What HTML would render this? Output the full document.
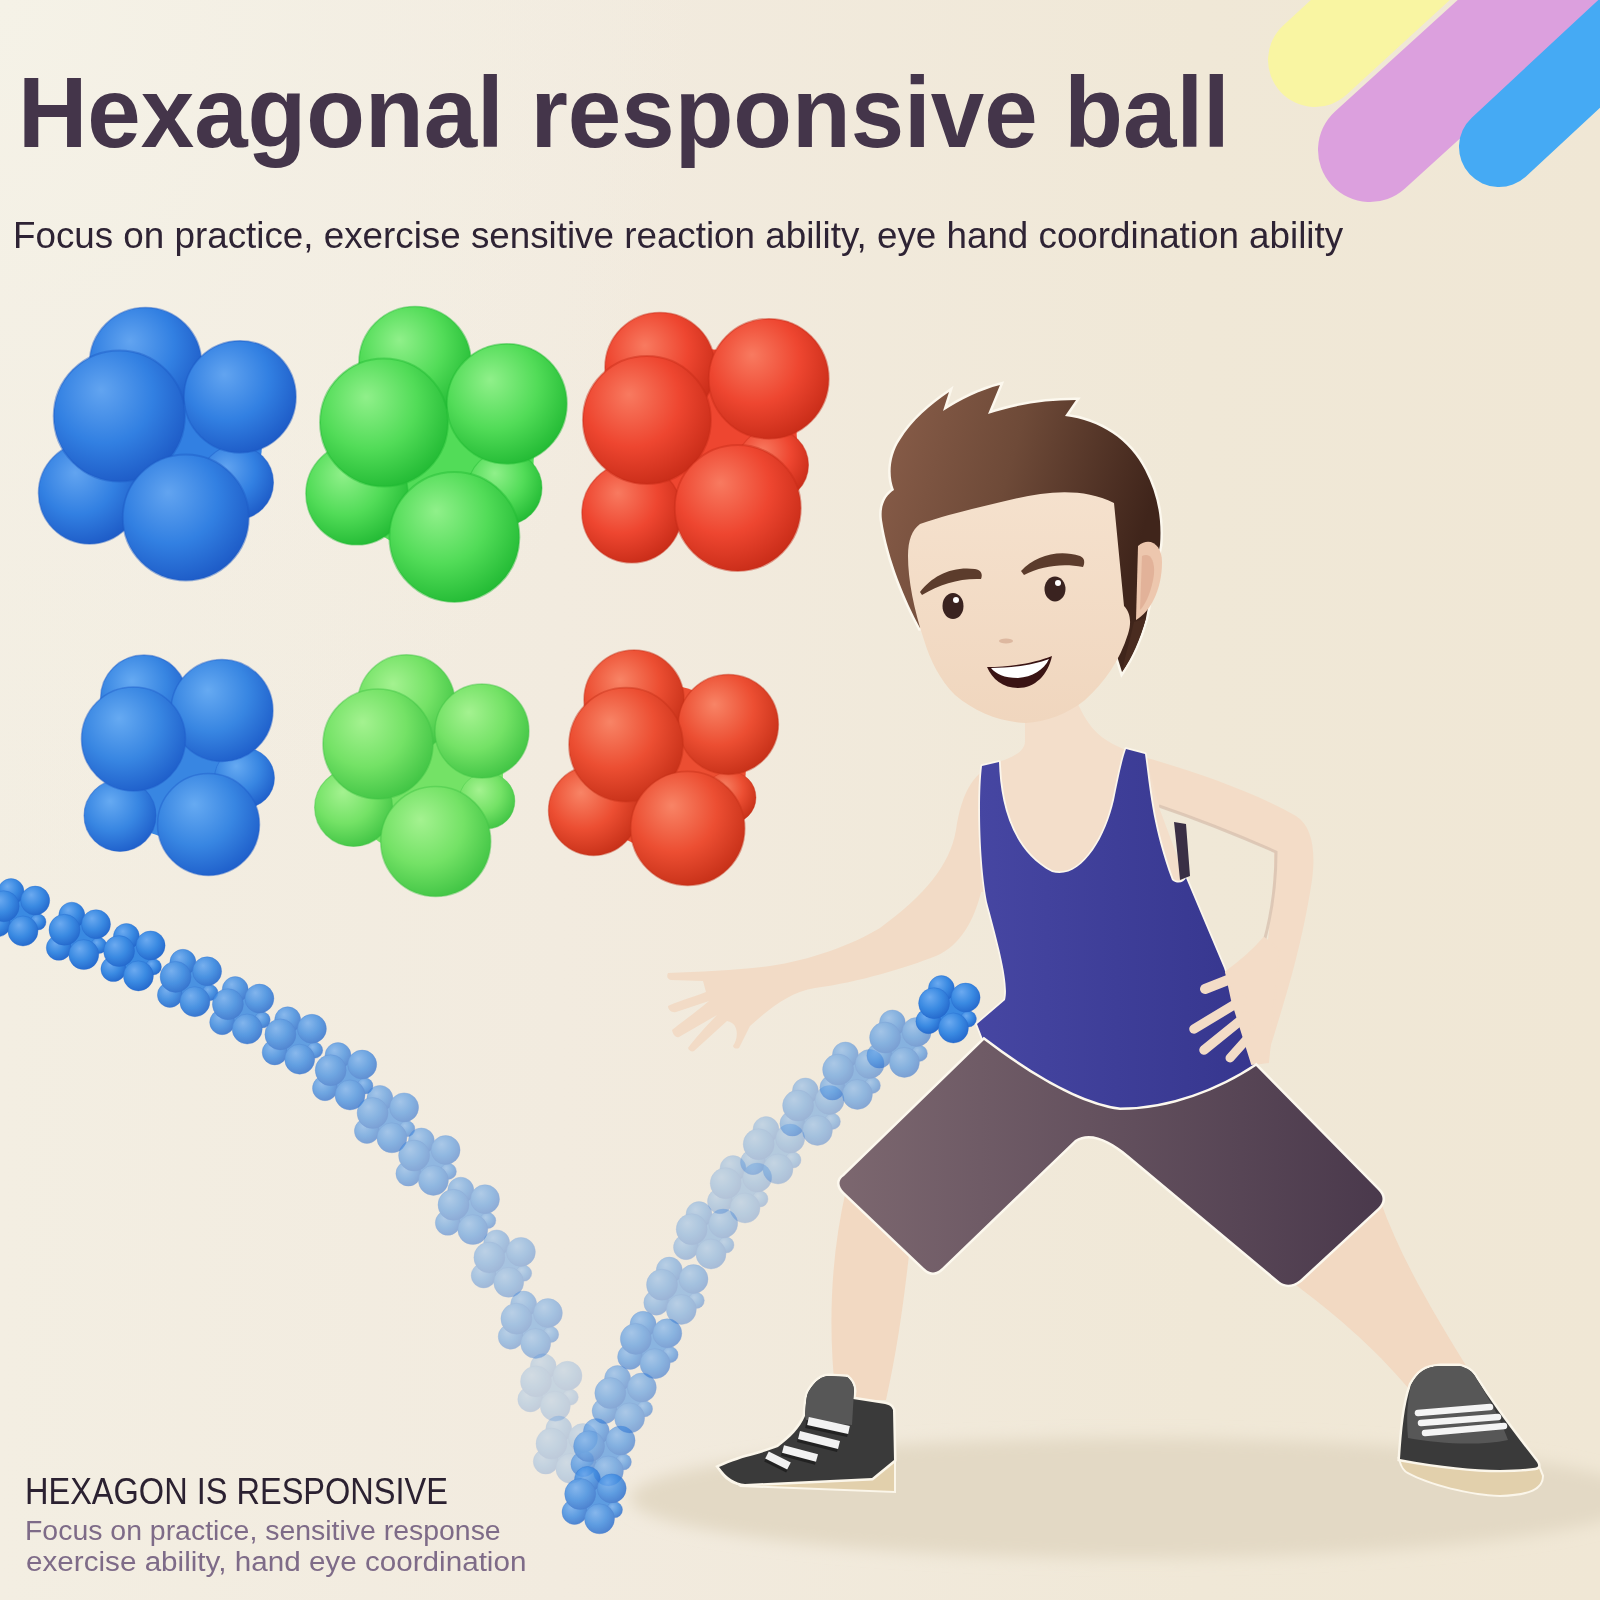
<!DOCTYPE html>
<html><head><meta charset="utf-8">
<style>
html,body{margin:0;padding:0;width:1600px;height:1600px;overflow:hidden}
body{position:relative;background:#F1E9DA;font-family:"Liberation Sans",sans-serif}
#bg{position:absolute;left:0;top:0;width:1600px;height:1600px;
background:radial-gradient(ellipse 700px 900px at 0px 0px,rgba(245,242,231,1) 0%,rgba(244,240,229,0.7) 45%,rgba(242,236,226,0) 100%),linear-gradient(90deg,#F3EEE2 0%,#F2EBDF 35%,#F0E8D7 75%,#F0E7D5 100%)}
svg{position:absolute;left:0;top:0}
.t{position:absolute;white-space:nowrap;line-height:1;transform-origin:0 0}
#t1{left:18px;top:62px;font-size:101px;font-weight:bold;color:#44354A;transform:scaleX(0.951)}
#t2{left:13px;top:217px;font-size:37px;color:#2E2334;transform:scaleX(0.994)}
#t3{left:25px;top:1473px;font-size:37px;color:#2B2131;transform:scaleX(0.879)}
#t4{left:25px;top:1518px;font-size:27px;color:#7E6B88;transform:scaleX(1.053)}
#t5{left:26px;top:1549px;font-size:27px;color:#7E6B88;transform:scaleX(1.098)}
</style></head><body>
<div id="bg"></div>
<svg width="1600" height="1600" viewBox="0 0 1600 1600">
<defs><radialGradient id="sp_b1" cx="0.4" cy="0.36" r="0.68" fx="0.36" fy="0.3"><stop offset="0" stop-color="#62A4F0"/><stop offset="0.55" stop-color="#3280E2"/><stop offset="1" stop-color="#1D5AC6"/></radialGradient><radialGradient id="sp_g1" cx="0.4" cy="0.36" r="0.68" fx="0.36" fy="0.3"><stop offset="0" stop-color="#90F08A"/><stop offset="0.55" stop-color="#52DC58"/><stop offset="1" stop-color="#22BA34"/></radialGradient><radialGradient id="sp_r1" cx="0.4" cy="0.36" r="0.68" fx="0.36" fy="0.3"><stop offset="0" stop-color="#F87A60"/><stop offset="0.55" stop-color="#EE4630"/><stop offset="1" stop-color="#C82C18"/></radialGradient><radialGradient id="sp_b2" cx="0.4" cy="0.36" r="0.68" fx="0.36" fy="0.3"><stop offset="0" stop-color="#66AAF2"/><stop offset="0.55" stop-color="#3886E2"/><stop offset="1" stop-color="#1E5ECA"/></radialGradient><radialGradient id="sp_g2" cx="0.4" cy="0.36" r="0.68" fx="0.36" fy="0.3"><stop offset="0" stop-color="#A4F290"/><stop offset="0.55" stop-color="#74E266"/><stop offset="1" stop-color="#40C444"/></radialGradient><radialGradient id="sp_r2" cx="0.4" cy="0.36" r="0.68" fx="0.36" fy="0.3"><stop offset="0" stop-color="#F88466"/><stop offset="0.55" stop-color="#EC4E32"/><stop offset="1" stop-color="#C63018"/></radialGradient><radialGradient id="sp_tb" cx="0.4" cy="0.36" r="0.68" fx="0.36" fy="0.3"><stop offset="0" stop-color="#6CAAF0"/><stop offset="0.55" stop-color="#3A8AE2"/><stop offset="1" stop-color="#2468CC"/></radialGradient>
<filter id="blur8" x="-20%" y="-50%" width="140%" height="200%"><feGaussianBlur stdDeviation="8"/></filter>
<linearGradient id="hairG" x1="0" y1="0" x2="1" y2="0.3"><stop offset="0" stop-color="#8A5E4A"/><stop offset="0.5" stop-color="#6E4A38"/><stop offset="1" stop-color="#40251B"/></linearGradient>
<linearGradient id="tankG" x1="0" y1="0" x2="1" y2="0"><stop offset="0" stop-color="#4646A2"/><stop offset="1" stop-color="#36368E"/></linearGradient>
<linearGradient id="shortsG" x1="0" y1="0" x2="1" y2="0"><stop offset="0" stop-color="#7C676F"/><stop offset="1" stop-color="#4A394C"/></linearGradient>
<linearGradient id="skinG" x1="0" y1="0" x2="0" y2="1"><stop offset="0" stop-color="#F5E1CD"/><stop offset="1" stop-color="#F0D6BE"/></linearGradient>
</defs>
<g stroke-linecap="round" fill="none">
<line x1="1315" y1="60" x2="1560" y2="-165" stroke="#F9F5A2" stroke-width="94"/>
<line x1="1370" y1="150" x2="1700" y2="-150" stroke="#DCA0DE" stroke-width="104"/>
<line x1="1499" y1="147" x2="1700" y2="-40" stroke="#45AAF4" stroke-width="80"/>
</g>
<ellipse cx="1135" cy="1498" rx="505" ry="60" fill="#E3D9C5" filter="url(#blur8)"/>
<circle cx="170.0" cy="443.0" r="92.0" fill="#3280E2"/><circle cx="236.5" cy="482.5" r="37.0" fill="url(#sp_b1)" stroke="#1D5AC6" stroke-opacity="0.45" stroke-width="1.11"/><circle cx="145.5" cy="363.5" r="56.0" fill="url(#sp_b1)" stroke="#1D5AC6" stroke-opacity="0.45" stroke-width="1.68"/><circle cx="89.5" cy="493.0" r="51.0" fill="url(#sp_b1)" stroke="#1D5AC6" stroke-opacity="0.45" stroke-width="1.53"/><circle cx="240.0" cy="396.8" r="56.0" fill="url(#sp_b1)" stroke="#1D5AC6" stroke-opacity="0.45" stroke-width="1.68"/><circle cx="119.3" cy="416.0" r="65.6" fill="url(#sp_b1)" stroke="#1D5AC6" stroke-opacity="0.45" stroke-width="1.97"/><circle cx="185.8" cy="517.5" r="63.0" fill="url(#sp_b1)" stroke="#1D5AC6" stroke-opacity="0.45" stroke-width="1.89"/><circle cx="436.0" cy="454.0" r="98.0" fill="#52DC58"/><circle cx="505.0" cy="488.0" r="37.0" fill="url(#sp_g1)" stroke="#22BA34" stroke-opacity="0.45" stroke-width="1.11"/><circle cx="415.0" cy="362.5" r="56.0" fill="url(#sp_g1)" stroke="#22BA34" stroke-opacity="0.45" stroke-width="1.68"/><circle cx="356.9" cy="493.8" r="51.0" fill="url(#sp_g1)" stroke="#22BA34" stroke-opacity="0.45" stroke-width="1.53"/><circle cx="506.9" cy="403.8" r="60.0" fill="url(#sp_g1)" stroke="#22BA34" stroke-opacity="0.45" stroke-width="1.80"/><circle cx="384.0" cy="422.5" r="64.0" fill="url(#sp_g1)" stroke="#22BA34" stroke-opacity="0.45" stroke-width="1.92"/><circle cx="454.4" cy="536.9" r="65.0" fill="url(#sp_g1)" stroke="#22BA34" stroke-opacity="0.45" stroke-width="1.95"/><circle cx="705.0" cy="441.0" r="92.0" fill="#EE4630"/><circle cx="772.5" cy="465.0" r="36.0" fill="url(#sp_r1)" stroke="#C82C18" stroke-opacity="0.45" stroke-width="1.08"/><circle cx="660.0" cy="367.5" r="55.0" fill="url(#sp_r1)" stroke="#C82C18" stroke-opacity="0.45" stroke-width="1.65"/><circle cx="631.9" cy="512.8" r="50.0" fill="url(#sp_r1)" stroke="#C82C18" stroke-opacity="0.45" stroke-width="1.50"/><circle cx="768.8" cy="378.8" r="60.0" fill="url(#sp_r1)" stroke="#C82C18" stroke-opacity="0.45" stroke-width="1.80"/><circle cx="646.9" cy="420.0" r="64.0" fill="url(#sp_r1)" stroke="#C82C18" stroke-opacity="0.45" stroke-width="1.92"/><circle cx="737.8" cy="508.0" r="63.0" fill="url(#sp_r1)" stroke="#C82C18" stroke-opacity="0.45" stroke-width="1.89"/><circle cx="180.0" cy="765.0" r="74.0" fill="#3886E2"/><circle cx="244.5" cy="778.0" r="30.0" fill="url(#sp_b2)" stroke="#1E5ECA" stroke-opacity="0.45" stroke-width="0.90"/><circle cx="144.0" cy="698.5" r="43.5" fill="url(#sp_b2)" stroke="#1E5ECA" stroke-opacity="0.45" stroke-width="1.30"/><circle cx="120.0" cy="815.5" r="36.0" fill="url(#sp_b2)" stroke="#1E5ECA" stroke-opacity="0.45" stroke-width="1.08"/><circle cx="222.0" cy="710.5" r="51.0" fill="url(#sp_b2)" stroke="#1E5ECA" stroke-opacity="0.45" stroke-width="1.53"/><circle cx="133.5" cy="739.0" r="52.0" fill="url(#sp_b2)" stroke="#1E5ECA" stroke-opacity="0.45" stroke-width="1.56"/><circle cx="208.5" cy="824.5" r="51.0" fill="url(#sp_b2)" stroke="#1E5ECA" stroke-opacity="0.45" stroke-width="1.53"/><circle cx="423.0" cy="775.0" r="80.0" fill="#74E266"/><circle cx="486.9" cy="801.0" r="28.0" fill="url(#sp_g2)" stroke="#40C444" stroke-opacity="0.45" stroke-width="0.84"/><circle cx="406.4" cy="703.4" r="48.7" fill="url(#sp_g2)" stroke="#40C444" stroke-opacity="0.45" stroke-width="1.46"/><circle cx="353.6" cy="807.4" r="39.0" fill="url(#sp_g2)" stroke="#40C444" stroke-opacity="0.45" stroke-width="1.17"/><circle cx="482.0" cy="731.0" r="47.0" fill="url(#sp_g2)" stroke="#40C444" stroke-opacity="0.45" stroke-width="1.41"/><circle cx="378.0" cy="744.0" r="55.0" fill="url(#sp_g2)" stroke="#40C444" stroke-opacity="0.45" stroke-width="1.65"/><circle cx="435.7" cy="841.5" r="55.0" fill="url(#sp_g2)" stroke="#40C444" stroke-opacity="0.45" stroke-width="1.65"/><circle cx="664.0" cy="767.0" r="82.0" fill="#EC4E32"/><circle cx="730.0" cy="797.5" r="26.0" fill="url(#sp_r2)" stroke="#C63018" stroke-opacity="0.45" stroke-width="0.80"/><circle cx="634.0" cy="700.0" r="50.0" fill="url(#sp_r2)" stroke="#C63018" stroke-opacity="0.45" stroke-width="1.50"/><circle cx="593.5" cy="810.5" r="45.0" fill="url(#sp_r2)" stroke="#C63018" stroke-opacity="0.45" stroke-width="1.35"/><circle cx="728.4" cy="724.4" r="50.0" fill="url(#sp_r2)" stroke="#C63018" stroke-opacity="0.45" stroke-width="1.50"/><circle cx="626.0" cy="744.7" r="57.0" fill="url(#sp_r2)" stroke="#C63018" stroke-opacity="0.45" stroke-width="1.71"/><circle cx="687.7" cy="828.4" r="57.0" fill="url(#sp_r2)" stroke="#C63018" stroke-opacity="0.45" stroke-width="1.71"/>
<g opacity="1.0"><circle cx="19.0" cy="913.0" r="21.0" fill="#3A8AE2"/><circle cx="38.0" cy="922.0" r="8.0" fill="url(#sp_tb)" stroke="#2468CC" stroke-opacity="0.45" stroke-width="0.80"/><circle cx="11.0" cy="891.6" r="13.0" fill="url(#sp_tb)" stroke="#2468CC" stroke-opacity="0.45" stroke-width="0.80"/><circle cx="-2.0" cy="924.2" r="12.5" fill="url(#sp_tb)" stroke="#2468CC" stroke-opacity="0.45" stroke-width="0.80"/><circle cx="35.2" cy="900.6" r="14.5" fill="url(#sp_tb)" stroke="#2468CC" stroke-opacity="0.45" stroke-width="0.80"/><circle cx="3.7" cy="906.2" r="15.5" fill="url(#sp_tb)" stroke="#2468CC" stroke-opacity="0.45" stroke-width="0.80"/><circle cx="23.0" cy="931.0" r="15.0" fill="url(#sp_tb)" stroke="#2468CC" stroke-opacity="0.45" stroke-width="0.80"/></g><g opacity="1.0"><circle cx="79.8" cy="936.6" r="21.0" fill="#3A8AE2"/><circle cx="98.8" cy="945.6" r="8.0" fill="url(#sp_tb)" stroke="#2468CC" stroke-opacity="0.45" stroke-width="0.80"/><circle cx="71.8" cy="915.2" r="13.0" fill="url(#sp_tb)" stroke="#2468CC" stroke-opacity="0.45" stroke-width="0.80"/><circle cx="58.8" cy="947.8" r="12.5" fill="url(#sp_tb)" stroke="#2468CC" stroke-opacity="0.45" stroke-width="0.80"/><circle cx="96.0" cy="924.2" r="14.5" fill="url(#sp_tb)" stroke="#2468CC" stroke-opacity="0.45" stroke-width="0.80"/><circle cx="64.5" cy="929.8" r="15.5" fill="url(#sp_tb)" stroke="#2468CC" stroke-opacity="0.45" stroke-width="0.80"/><circle cx="83.8" cy="954.6" r="15.0" fill="url(#sp_tb)" stroke="#2468CC" stroke-opacity="0.45" stroke-width="0.80"/></g><g opacity="1.0"><circle cx="134.4" cy="957.9" r="21.0" fill="#3A8AE2"/><circle cx="153.4" cy="966.9" r="8.0" fill="url(#sp_tb)" stroke="#2468CC" stroke-opacity="0.45" stroke-width="0.80"/><circle cx="126.4" cy="936.5" r="13.0" fill="url(#sp_tb)" stroke="#2468CC" stroke-opacity="0.45" stroke-width="0.80"/><circle cx="113.4" cy="969.1" r="12.5" fill="url(#sp_tb)" stroke="#2468CC" stroke-opacity="0.45" stroke-width="0.80"/><circle cx="150.6" cy="945.5" r="14.5" fill="url(#sp_tb)" stroke="#2468CC" stroke-opacity="0.45" stroke-width="0.80"/><circle cx="119.1" cy="951.1" r="15.5" fill="url(#sp_tb)" stroke="#2468CC" stroke-opacity="0.45" stroke-width="0.80"/><circle cx="138.4" cy="975.9" r="15.0" fill="url(#sp_tb)" stroke="#2468CC" stroke-opacity="0.45" stroke-width="0.80"/></g><g opacity="0.91"><circle cx="190.9" cy="983.7" r="21.0" fill="#3A8AE2"/><circle cx="209.9" cy="992.7" r="8.0" fill="url(#sp_tb)" stroke="#2468CC" stroke-opacity="0.45" stroke-width="0.80"/><circle cx="182.9" cy="962.3" r="13.0" fill="url(#sp_tb)" stroke="#2468CC" stroke-opacity="0.45" stroke-width="0.80"/><circle cx="169.9" cy="994.9" r="12.5" fill="url(#sp_tb)" stroke="#2468CC" stroke-opacity="0.45" stroke-width="0.80"/><circle cx="207.1" cy="971.3" r="14.5" fill="url(#sp_tb)" stroke="#2468CC" stroke-opacity="0.45" stroke-width="0.80"/><circle cx="175.6" cy="976.9" r="15.5" fill="url(#sp_tb)" stroke="#2468CC" stroke-opacity="0.45" stroke-width="0.80"/><circle cx="194.9" cy="1001.7" r="15.0" fill="url(#sp_tb)" stroke="#2468CC" stroke-opacity="0.45" stroke-width="0.80"/></g><g opacity="0.83"><circle cx="243.2" cy="1011.0" r="21.0" fill="#3A8AE2"/><circle cx="262.2" cy="1020.0" r="8.0" fill="url(#sp_tb)" stroke="#2468CC" stroke-opacity="0.45" stroke-width="0.80"/><circle cx="235.2" cy="989.6" r="13.0" fill="url(#sp_tb)" stroke="#2468CC" stroke-opacity="0.45" stroke-width="0.80"/><circle cx="222.2" cy="1022.2" r="12.5" fill="url(#sp_tb)" stroke="#2468CC" stroke-opacity="0.45" stroke-width="0.80"/><circle cx="259.4" cy="998.6" r="14.5" fill="url(#sp_tb)" stroke="#2468CC" stroke-opacity="0.45" stroke-width="0.80"/><circle cx="227.9" cy="1004.2" r="15.5" fill="url(#sp_tb)" stroke="#2468CC" stroke-opacity="0.45" stroke-width="0.80"/><circle cx="247.2" cy="1029.0" r="15.0" fill="url(#sp_tb)" stroke="#2468CC" stroke-opacity="0.45" stroke-width="0.80"/></g><g opacity="0.78"><circle cx="295.7" cy="1041.2" r="21.0" fill="#3A8AE2"/><circle cx="314.7" cy="1050.2" r="8.0" fill="url(#sp_tb)" stroke="#2468CC" stroke-opacity="0.45" stroke-width="0.80"/><circle cx="287.7" cy="1019.8" r="13.0" fill="url(#sp_tb)" stroke="#2468CC" stroke-opacity="0.45" stroke-width="0.80"/><circle cx="274.7" cy="1052.4" r="12.5" fill="url(#sp_tb)" stroke="#2468CC" stroke-opacity="0.45" stroke-width="0.80"/><circle cx="311.9" cy="1028.8" r="14.5" fill="url(#sp_tb)" stroke="#2468CC" stroke-opacity="0.45" stroke-width="0.80"/><circle cx="280.4" cy="1034.4" r="15.5" fill="url(#sp_tb)" stroke="#2468CC" stroke-opacity="0.45" stroke-width="0.80"/><circle cx="299.7" cy="1059.2" r="15.0" fill="url(#sp_tb)" stroke="#2468CC" stroke-opacity="0.45" stroke-width="0.80"/></g><g opacity="0.71"><circle cx="346.0" cy="1077.0" r="21.0" fill="#3A8AE2"/><circle cx="365.0" cy="1086.0" r="8.0" fill="url(#sp_tb)" stroke="#2468CC" stroke-opacity="0.45" stroke-width="0.80"/><circle cx="338.0" cy="1055.6" r="13.0" fill="url(#sp_tb)" stroke="#2468CC" stroke-opacity="0.45" stroke-width="0.80"/><circle cx="325.0" cy="1088.2" r="12.5" fill="url(#sp_tb)" stroke="#2468CC" stroke-opacity="0.45" stroke-width="0.80"/><circle cx="362.2" cy="1064.6" r="14.5" fill="url(#sp_tb)" stroke="#2468CC" stroke-opacity="0.45" stroke-width="0.80"/><circle cx="330.7" cy="1070.2" r="15.5" fill="url(#sp_tb)" stroke="#2468CC" stroke-opacity="0.45" stroke-width="0.80"/><circle cx="350.0" cy="1095.0" r="15.0" fill="url(#sp_tb)" stroke="#2468CC" stroke-opacity="0.45" stroke-width="0.80"/></g><g opacity="0.58"><circle cx="387.9" cy="1119.8" r="21.0" fill="#3A8AE2"/><circle cx="406.9" cy="1128.8" r="8.0" fill="url(#sp_tb)" stroke="#2468CC" stroke-opacity="0.45" stroke-width="0.80"/><circle cx="379.9" cy="1098.4" r="13.0" fill="url(#sp_tb)" stroke="#2468CC" stroke-opacity="0.45" stroke-width="0.80"/><circle cx="366.9" cy="1131.0" r="12.5" fill="url(#sp_tb)" stroke="#2468CC" stroke-opacity="0.45" stroke-width="0.80"/><circle cx="404.1" cy="1107.4" r="14.5" fill="url(#sp_tb)" stroke="#2468CC" stroke-opacity="0.45" stroke-width="0.80"/><circle cx="372.6" cy="1113.0" r="15.5" fill="url(#sp_tb)" stroke="#2468CC" stroke-opacity="0.45" stroke-width="0.80"/><circle cx="391.9" cy="1137.8" r="15.0" fill="url(#sp_tb)" stroke="#2468CC" stroke-opacity="0.45" stroke-width="0.80"/></g><g opacity="0.53"><circle cx="429.4" cy="1162.4" r="21.0" fill="#3A8AE2"/><circle cx="448.4" cy="1171.4" r="8.0" fill="url(#sp_tb)" stroke="#2468CC" stroke-opacity="0.45" stroke-width="0.80"/><circle cx="421.4" cy="1141.0" r="13.0" fill="url(#sp_tb)" stroke="#2468CC" stroke-opacity="0.45" stroke-width="0.80"/><circle cx="408.4" cy="1173.6" r="12.5" fill="url(#sp_tb)" stroke="#2468CC" stroke-opacity="0.45" stroke-width="0.80"/><circle cx="445.6" cy="1150.0" r="14.5" fill="url(#sp_tb)" stroke="#2468CC" stroke-opacity="0.45" stroke-width="0.80"/><circle cx="414.1" cy="1155.6" r="15.5" fill="url(#sp_tb)" stroke="#2468CC" stroke-opacity="0.45" stroke-width="0.80"/><circle cx="433.4" cy="1180.4" r="15.0" fill="url(#sp_tb)" stroke="#2468CC" stroke-opacity="0.45" stroke-width="0.80"/></g><g opacity="0.49"><circle cx="468.8" cy="1211.6" r="21.0" fill="#3A8AE2"/><circle cx="487.8" cy="1220.6" r="8.0" fill="url(#sp_tb)" stroke="#2468CC" stroke-opacity="0.45" stroke-width="0.80"/><circle cx="460.8" cy="1190.2" r="13.0" fill="url(#sp_tb)" stroke="#2468CC" stroke-opacity="0.45" stroke-width="0.80"/><circle cx="447.8" cy="1222.8" r="12.5" fill="url(#sp_tb)" stroke="#2468CC" stroke-opacity="0.45" stroke-width="0.80"/><circle cx="485.0" cy="1199.2" r="14.5" fill="url(#sp_tb)" stroke="#2468CC" stroke-opacity="0.45" stroke-width="0.80"/><circle cx="453.5" cy="1204.8" r="15.5" fill="url(#sp_tb)" stroke="#2468CC" stroke-opacity="0.45" stroke-width="0.80"/><circle cx="472.8" cy="1229.6" r="15.0" fill="url(#sp_tb)" stroke="#2468CC" stroke-opacity="0.45" stroke-width="0.80"/></g><g opacity="0.4"><circle cx="504.7" cy="1264.3" r="21.0" fill="#3A8AE2"/><circle cx="523.7" cy="1273.3" r="8.0" fill="url(#sp_tb)" stroke="#2468CC" stroke-opacity="0.45" stroke-width="0.80"/><circle cx="496.7" cy="1242.9" r="13.0" fill="url(#sp_tb)" stroke="#2468CC" stroke-opacity="0.45" stroke-width="0.80"/><circle cx="483.7" cy="1275.5" r="12.5" fill="url(#sp_tb)" stroke="#2468CC" stroke-opacity="0.45" stroke-width="0.80"/><circle cx="520.9" cy="1251.9" r="14.5" fill="url(#sp_tb)" stroke="#2468CC" stroke-opacity="0.45" stroke-width="0.80"/><circle cx="489.4" cy="1257.5" r="15.5" fill="url(#sp_tb)" stroke="#2468CC" stroke-opacity="0.45" stroke-width="0.80"/><circle cx="508.7" cy="1282.3" r="15.0" fill="url(#sp_tb)" stroke="#2468CC" stroke-opacity="0.45" stroke-width="0.80"/></g><g opacity="0.42"><circle cx="531.7" cy="1325.5" r="21.0" fill="#3A8AE2"/><circle cx="550.7" cy="1334.5" r="8.0" fill="url(#sp_tb)" stroke="#2468CC" stroke-opacity="0.45" stroke-width="0.80"/><circle cx="523.7" cy="1304.1" r="13.0" fill="url(#sp_tb)" stroke="#2468CC" stroke-opacity="0.45" stroke-width="0.80"/><circle cx="510.7" cy="1336.7" r="12.5" fill="url(#sp_tb)" stroke="#2468CC" stroke-opacity="0.45" stroke-width="0.80"/><circle cx="547.9" cy="1313.1" r="14.5" fill="url(#sp_tb)" stroke="#2468CC" stroke-opacity="0.45" stroke-width="0.80"/><circle cx="516.4" cy="1318.7" r="15.5" fill="url(#sp_tb)" stroke="#2468CC" stroke-opacity="0.45" stroke-width="0.80"/><circle cx="535.7" cy="1343.5" r="15.0" fill="url(#sp_tb)" stroke="#2468CC" stroke-opacity="0.45" stroke-width="0.80"/></g><g opacity="0.23"><circle cx="551.3" cy="1388.2" r="21.0" fill="#3A8AE2"/><circle cx="570.3" cy="1397.2" r="8.0" fill="url(#sp_tb)" stroke="#2468CC" stroke-opacity="0.45" stroke-width="0.80"/><circle cx="543.3" cy="1366.8" r="13.0" fill="url(#sp_tb)" stroke="#2468CC" stroke-opacity="0.45" stroke-width="0.80"/><circle cx="530.3" cy="1399.4" r="12.5" fill="url(#sp_tb)" stroke="#2468CC" stroke-opacity="0.45" stroke-width="0.80"/><circle cx="567.5" cy="1375.8" r="14.5" fill="url(#sp_tb)" stroke="#2468CC" stroke-opacity="0.45" stroke-width="0.80"/><circle cx="536.0" cy="1381.4" r="15.5" fill="url(#sp_tb)" stroke="#2468CC" stroke-opacity="0.45" stroke-width="0.80"/><circle cx="555.3" cy="1406.2" r="15.0" fill="url(#sp_tb)" stroke="#2468CC" stroke-opacity="0.45" stroke-width="0.80"/></g><g opacity="0.25"><circle cx="566.8" cy="1450.4" r="21.0" fill="#3A8AE2"/><circle cx="585.8" cy="1459.4" r="8.0" fill="url(#sp_tb)" stroke="#2468CC" stroke-opacity="0.45" stroke-width="0.80"/><circle cx="558.8" cy="1429.0" r="13.0" fill="url(#sp_tb)" stroke="#2468CC" stroke-opacity="0.45" stroke-width="0.80"/><circle cx="545.8" cy="1461.6" r="12.5" fill="url(#sp_tb)" stroke="#2468CC" stroke-opacity="0.45" stroke-width="0.80"/><circle cx="583.0" cy="1438.0" r="14.5" fill="url(#sp_tb)" stroke="#2468CC" stroke-opacity="0.45" stroke-width="0.80"/><circle cx="551.5" cy="1443.6" r="15.5" fill="url(#sp_tb)" stroke="#2468CC" stroke-opacity="0.45" stroke-width="0.80"/><circle cx="570.8" cy="1468.4" r="15.0" fill="url(#sp_tb)" stroke="#2468CC" stroke-opacity="0.45" stroke-width="0.80"/></g><g opacity="0.6"><circle cx="604.4" cy="1453.0" r="21.0" fill="#3A8AE2"/><circle cx="623.4" cy="1462.0" r="8.0" fill="url(#sp_tb)" stroke="#2468CC" stroke-opacity="0.45" stroke-width="0.80"/><circle cx="596.4" cy="1431.6" r="13.0" fill="url(#sp_tb)" stroke="#2468CC" stroke-opacity="0.45" stroke-width="0.80"/><circle cx="583.4" cy="1464.2" r="12.5" fill="url(#sp_tb)" stroke="#2468CC" stroke-opacity="0.45" stroke-width="0.80"/><circle cx="620.6" cy="1440.6" r="14.5" fill="url(#sp_tb)" stroke="#2468CC" stroke-opacity="0.45" stroke-width="0.80"/><circle cx="589.1" cy="1446.2" r="15.5" fill="url(#sp_tb)" stroke="#2468CC" stroke-opacity="0.45" stroke-width="0.80"/><circle cx="608.4" cy="1471.0" r="15.0" fill="url(#sp_tb)" stroke="#2468CC" stroke-opacity="0.45" stroke-width="0.80"/></g><g opacity="0.52"><circle cx="625.6" cy="1399.9" r="21.0" fill="#3A8AE2"/><circle cx="644.6" cy="1408.9" r="8.0" fill="url(#sp_tb)" stroke="#2468CC" stroke-opacity="0.45" stroke-width="0.80"/><circle cx="617.6" cy="1378.5" r="13.0" fill="url(#sp_tb)" stroke="#2468CC" stroke-opacity="0.45" stroke-width="0.80"/><circle cx="604.6" cy="1411.1" r="12.5" fill="url(#sp_tb)" stroke="#2468CC" stroke-opacity="0.45" stroke-width="0.80"/><circle cx="641.8" cy="1387.5" r="14.5" fill="url(#sp_tb)" stroke="#2468CC" stroke-opacity="0.45" stroke-width="0.80"/><circle cx="610.3" cy="1393.1" r="15.5" fill="url(#sp_tb)" stroke="#2468CC" stroke-opacity="0.45" stroke-width="0.80"/><circle cx="629.6" cy="1417.9" r="15.0" fill="url(#sp_tb)" stroke="#2468CC" stroke-opacity="0.45" stroke-width="0.80"/></g><g opacity="0.56"><circle cx="651.1" cy="1345.7" r="21.0" fill="#3A8AE2"/><circle cx="670.1" cy="1354.7" r="8.0" fill="url(#sp_tb)" stroke="#2468CC" stroke-opacity="0.45" stroke-width="0.80"/><circle cx="643.1" cy="1324.3" r="13.0" fill="url(#sp_tb)" stroke="#2468CC" stroke-opacity="0.45" stroke-width="0.80"/><circle cx="630.1" cy="1356.9" r="12.5" fill="url(#sp_tb)" stroke="#2468CC" stroke-opacity="0.45" stroke-width="0.80"/><circle cx="667.3" cy="1333.3" r="14.5" fill="url(#sp_tb)" stroke="#2468CC" stroke-opacity="0.45" stroke-width="0.80"/><circle cx="635.8" cy="1338.9" r="15.5" fill="url(#sp_tb)" stroke="#2468CC" stroke-opacity="0.45" stroke-width="0.80"/><circle cx="655.1" cy="1363.7" r="15.0" fill="url(#sp_tb)" stroke="#2468CC" stroke-opacity="0.45" stroke-width="0.80"/></g><g opacity="0.42"><circle cx="677.3" cy="1291.5" r="21.0" fill="#3A8AE2"/><circle cx="696.3" cy="1300.5" r="8.0" fill="url(#sp_tb)" stroke="#2468CC" stroke-opacity="0.45" stroke-width="0.80"/><circle cx="669.3" cy="1270.1" r="13.0" fill="url(#sp_tb)" stroke="#2468CC" stroke-opacity="0.45" stroke-width="0.80"/><circle cx="656.3" cy="1302.7" r="12.5" fill="url(#sp_tb)" stroke="#2468CC" stroke-opacity="0.45" stroke-width="0.80"/><circle cx="693.5" cy="1279.1" r="14.5" fill="url(#sp_tb)" stroke="#2468CC" stroke-opacity="0.45" stroke-width="0.80"/><circle cx="662.0" cy="1284.7" r="15.5" fill="url(#sp_tb)" stroke="#2468CC" stroke-opacity="0.45" stroke-width="0.80"/><circle cx="681.3" cy="1309.5" r="15.0" fill="url(#sp_tb)" stroke="#2468CC" stroke-opacity="0.45" stroke-width="0.80"/></g><g opacity="0.36"><circle cx="707.0" cy="1236.0" r="21.0" fill="#3A8AE2"/><circle cx="726.0" cy="1245.0" r="8.0" fill="url(#sp_tb)" stroke="#2468CC" stroke-opacity="0.45" stroke-width="0.80"/><circle cx="699.0" cy="1214.6" r="13.0" fill="url(#sp_tb)" stroke="#2468CC" stroke-opacity="0.45" stroke-width="0.80"/><circle cx="686.0" cy="1247.2" r="12.5" fill="url(#sp_tb)" stroke="#2468CC" stroke-opacity="0.45" stroke-width="0.80"/><circle cx="723.2" cy="1223.6" r="14.5" fill="url(#sp_tb)" stroke="#2468CC" stroke-opacity="0.45" stroke-width="0.80"/><circle cx="691.7" cy="1229.2" r="15.5" fill="url(#sp_tb)" stroke="#2468CC" stroke-opacity="0.45" stroke-width="0.80"/><circle cx="711.0" cy="1254.0" r="15.0" fill="url(#sp_tb)" stroke="#2468CC" stroke-opacity="0.45" stroke-width="0.80"/></g><g opacity="0.3"><circle cx="741.0" cy="1190.0" r="21.0" fill="#3A8AE2"/><circle cx="760.0" cy="1199.0" r="8.0" fill="url(#sp_tb)" stroke="#2468CC" stroke-opacity="0.45" stroke-width="0.80"/><circle cx="733.0" cy="1168.6" r="13.0" fill="url(#sp_tb)" stroke="#2468CC" stroke-opacity="0.45" stroke-width="0.80"/><circle cx="720.0" cy="1201.2" r="12.5" fill="url(#sp_tb)" stroke="#2468CC" stroke-opacity="0.45" stroke-width="0.80"/><circle cx="757.2" cy="1177.6" r="14.5" fill="url(#sp_tb)" stroke="#2468CC" stroke-opacity="0.45" stroke-width="0.80"/><circle cx="725.7" cy="1183.2" r="15.5" fill="url(#sp_tb)" stroke="#2468CC" stroke-opacity="0.45" stroke-width="0.80"/><circle cx="745.0" cy="1208.0" r="15.0" fill="url(#sp_tb)" stroke="#2468CC" stroke-opacity="0.45" stroke-width="0.80"/></g><g opacity="0.33"><circle cx="774.0" cy="1151.0" r="21.0" fill="#3A8AE2"/><circle cx="793.0" cy="1160.0" r="8.0" fill="url(#sp_tb)" stroke="#2468CC" stroke-opacity="0.45" stroke-width="0.80"/><circle cx="766.0" cy="1129.6" r="13.0" fill="url(#sp_tb)" stroke="#2468CC" stroke-opacity="0.45" stroke-width="0.80"/><circle cx="753.0" cy="1162.2" r="12.5" fill="url(#sp_tb)" stroke="#2468CC" stroke-opacity="0.45" stroke-width="0.80"/><circle cx="790.2" cy="1138.6" r="14.5" fill="url(#sp_tb)" stroke="#2468CC" stroke-opacity="0.45" stroke-width="0.80"/><circle cx="758.7" cy="1144.2" r="15.5" fill="url(#sp_tb)" stroke="#2468CC" stroke-opacity="0.45" stroke-width="0.80"/><circle cx="778.0" cy="1169.0" r="15.0" fill="url(#sp_tb)" stroke="#2468CC" stroke-opacity="0.45" stroke-width="0.80"/></g><g opacity="0.42"><circle cx="813.4" cy="1112.4" r="21.0" fill="#3A8AE2"/><circle cx="832.4" cy="1121.4" r="8.0" fill="url(#sp_tb)" stroke="#2468CC" stroke-opacity="0.45" stroke-width="0.80"/><circle cx="805.4" cy="1091.0" r="13.0" fill="url(#sp_tb)" stroke="#2468CC" stroke-opacity="0.45" stroke-width="0.80"/><circle cx="792.4" cy="1123.6" r="12.5" fill="url(#sp_tb)" stroke="#2468CC" stroke-opacity="0.45" stroke-width="0.80"/><circle cx="829.6" cy="1100.0" r="14.5" fill="url(#sp_tb)" stroke="#2468CC" stroke-opacity="0.45" stroke-width="0.80"/><circle cx="798.1" cy="1105.6" r="15.5" fill="url(#sp_tb)" stroke="#2468CC" stroke-opacity="0.45" stroke-width="0.80"/><circle cx="817.4" cy="1130.4" r="15.0" fill="url(#sp_tb)" stroke="#2468CC" stroke-opacity="0.45" stroke-width="0.80"/></g><g opacity="0.52"><circle cx="853.4" cy="1076.4" r="21.0" fill="#3A8AE2"/><circle cx="872.4" cy="1085.4" r="8.0" fill="url(#sp_tb)" stroke="#2468CC" stroke-opacity="0.45" stroke-width="0.80"/><circle cx="845.4" cy="1055.0" r="13.0" fill="url(#sp_tb)" stroke="#2468CC" stroke-opacity="0.45" stroke-width="0.80"/><circle cx="832.4" cy="1087.6" r="12.5" fill="url(#sp_tb)" stroke="#2468CC" stroke-opacity="0.45" stroke-width="0.80"/><circle cx="869.6" cy="1064.0" r="14.5" fill="url(#sp_tb)" stroke="#2468CC" stroke-opacity="0.45" stroke-width="0.80"/><circle cx="838.1" cy="1069.6" r="15.5" fill="url(#sp_tb)" stroke="#2468CC" stroke-opacity="0.45" stroke-width="0.80"/><circle cx="857.4" cy="1094.4" r="15.0" fill="url(#sp_tb)" stroke="#2468CC" stroke-opacity="0.45" stroke-width="0.80"/></g><g opacity="0.58"><circle cx="900.4" cy="1044.4" r="21.0" fill="#3A8AE2"/><circle cx="919.4" cy="1053.4" r="8.0" fill="url(#sp_tb)" stroke="#2468CC" stroke-opacity="0.45" stroke-width="0.80"/><circle cx="892.4" cy="1023.0" r="13.0" fill="url(#sp_tb)" stroke="#2468CC" stroke-opacity="0.45" stroke-width="0.80"/><circle cx="879.4" cy="1055.6" r="12.5" fill="url(#sp_tb)" stroke="#2468CC" stroke-opacity="0.45" stroke-width="0.80"/><circle cx="916.6" cy="1032.0" r="14.5" fill="url(#sp_tb)" stroke="#2468CC" stroke-opacity="0.45" stroke-width="0.80"/><circle cx="885.1" cy="1037.6" r="15.5" fill="url(#sp_tb)" stroke="#2468CC" stroke-opacity="0.45" stroke-width="0.80"/><circle cx="904.4" cy="1062.4" r="15.0" fill="url(#sp_tb)" stroke="#2468CC" stroke-opacity="0.45" stroke-width="0.80"/></g><g opacity="1.0"><circle cx="949.4" cy="1010.0" r="21.0" fill="#3A8AE2"/><circle cx="968.4" cy="1019.0" r="8.0" fill="url(#sp_tb)" stroke="#2468CC" stroke-opacity="0.45" stroke-width="0.80"/><circle cx="941.4" cy="988.6" r="13.0" fill="url(#sp_tb)" stroke="#2468CC" stroke-opacity="0.45" stroke-width="0.80"/><circle cx="928.4" cy="1021.2" r="12.5" fill="url(#sp_tb)" stroke="#2468CC" stroke-opacity="0.45" stroke-width="0.80"/><circle cx="965.6" cy="997.6" r="14.5" fill="url(#sp_tb)" stroke="#2468CC" stroke-opacity="0.45" stroke-width="0.80"/><circle cx="934.1" cy="1003.2" r="15.5" fill="url(#sp_tb)" stroke="#2468CC" stroke-opacity="0.45" stroke-width="0.80"/><circle cx="953.4" cy="1028.0" r="15.0" fill="url(#sp_tb)" stroke="#2468CC" stroke-opacity="0.45" stroke-width="0.80"/></g><g opacity="0.8"><circle cx="595.5" cy="1500.8" r="21.0" fill="#3A8AE2"/><circle cx="614.5" cy="1509.8" r="8.0" fill="url(#sp_tb)" stroke="#2468CC" stroke-opacity="0.45" stroke-width="0.80"/><circle cx="587.5" cy="1479.4" r="13.0" fill="url(#sp_tb)" stroke="#2468CC" stroke-opacity="0.45" stroke-width="0.80"/><circle cx="574.5" cy="1512.0" r="12.5" fill="url(#sp_tb)" stroke="#2468CC" stroke-opacity="0.45" stroke-width="0.80"/><circle cx="611.7" cy="1488.4" r="14.5" fill="url(#sp_tb)" stroke="#2468CC" stroke-opacity="0.45" stroke-width="0.80"/><circle cx="580.2" cy="1494.0" r="15.5" fill="url(#sp_tb)" stroke="#2468CC" stroke-opacity="0.45" stroke-width="0.80"/><circle cx="599.5" cy="1518.8" r="15.0" fill="url(#sp_tb)" stroke="#2468CC" stroke-opacity="0.45" stroke-width="0.80"/></g>
<g id="boy">
<!-- legs -->
<path d="M846 1190 L910 1246 C904 1300 898 1345 886 1400 L836 1400 C828 1330 830 1260 846 1190 Z" fill="#F2D9C2"/>
<path d="M1292 1282 L1380 1200 C1402 1262 1438 1320 1470 1372 L1410 1390 C1372 1345 1332 1312 1292 1282 Z" fill="#F2D9C2"/>
<!-- right arm -->
<path d="M1140 756 C1190 770 1250 790 1296 816 C1312 826 1316 850 1312 880 C1306 920 1296 965 1278 1022 C1272 1042 1268 1056 1262 1064 L1236 1064 C1248 1020 1262 980 1268 940 C1272 905 1275 870 1274 852 C1240 836 1200 820 1158 806 Z" fill="#F3DCC7"/>
<path d="M1159 806 C1200 820 1240 836 1276 852 C1276 890 1270 920 1264 942" fill="none" stroke="#D8C2B0" stroke-width="3" stroke-opacity="0.8"/>
<!-- left arm -->
<path d="M1000 762 C975 770 962 790 956 830 C950 865 925 895 880 928 C850 946 810 960 770 966 C740 970 700 972 668 973 C666 977 668 979 671 980 L703 981 L706 992 C690 998 676 1002 668 1006 C668 1010 672 1013 676 1012 L709 1001 C696 1012 682 1022 672 1030 C673 1035 676 1038 679 1037 L717 1015 C706 1026 694 1040 688 1048 C689 1051 692 1052 694 1051 L727 1021 C740 1023 738 1040 733 1046 C734 1049 737 1049 739 1048 L750 1026 C770 1008 790 992 815 988 C860 982 905 968 936 956 C960 946 975 920 982 888 Z" fill="#F2DBC6"/>
<!-- torso skin -->
<path d="M1000 714 L1078 704 C1088 726 1100 745 1146 756 L1160 810 L1186 880 L980 892 L982 766 C1000 762 1024 756 1025 742 L1025 716 Z" fill="#F3DECA"/>
<!-- tank top -->
<path d="M982 766 L999 762 C1000 800 1010 850 1052 872 C1080 880 1105 840 1114 800 C1118 780 1122 760 1126 749 L1145 754 C1150 790 1152 825 1172 880 C1178 885 1184 882 1186 878 L1224 968 L1256 1067 C1240 1080 1224 1090 1200 1100 C1170 1110 1130 1112 1100 1108 C1060 1100 1020 1068 984 1042 L977 1024 L1005 1000 C1009 985 1000 950 988 906 C980 870 978 800 982 766 Z" fill="url(#tankG)" stroke="#FBF6EC" stroke-width="3.5" stroke-linejoin="round" paint-order="stroke"/>
<path d="M1174 822 L1186 824 L1190 876 L1180 880 C1178 860 1176 840 1174 822 Z" fill="#3A2F45"/>
<!-- right hand over tank -->
<g fill="#F3DCC7" stroke="#F3DCC7" stroke-linecap="round">
<path d="M1226 972 C1240 962 1252 952 1264 938 L1280 950 L1268 1062 L1252 1064 L1232 1000 Z" stroke-width="2"/>
<line x1="1238" y1="976" x2="1205" y2="989" stroke-width="10"/>
<line x1="1242" y1="1000" x2="1194" y2="1029" stroke-width="9.5"/>
<line x1="1246" y1="1016" x2="1204" y2="1050" stroke-width="9.5"/>
<line x1="1255" y1="1030" x2="1230" y2="1058" stroke-width="9"/>
</g>
<!-- shorts -->
<path d="M984 1040 C1030 1075 1080 1105 1120 1110 C1170 1110 1220 1090 1256 1066 L1378 1190 C1384 1196 1384 1202 1378 1208 L1300 1280 C1292 1286 1286 1286 1280 1282 L1128 1155 C1110 1140 1090 1130 1075 1140 L942 1268 C936 1274 930 1274 924 1268 L844 1192 C838 1186 838 1180 844 1176 Z" fill="url(#shortsG)" stroke="#FCF8EE" stroke-width="5" paint-order="stroke"/>
<!-- left shoe -->
<path d="M722 1472 C728 1480 736 1484 745 1484 L872 1478 L894 1460 L894 1491 L741 1485 Z" fill="#E2D0AC" stroke="#FBF6EA" stroke-width="4" paint-order="stroke"/>
<path d="M719 1467 C730 1462 745 1457 754 1455 C765 1452 772 1449 778 1447 C790 1438 800 1428 805 1416 C806 1404 806 1396 809 1391 C815 1381 822 1376 829 1376 L847 1377 C852 1381 854 1386 854 1391 L853 1399 L885 1404 C890 1405 892 1407 893 1410 L894 1460 L872 1478 L745 1484 C735 1483 727 1478 719 1467 Z" fill="#3A3A3A" stroke="#FBF6EA" stroke-width="5" paint-order="stroke"/>
<path d="M805 1416 C806 1404 806 1396 809 1391 C815 1381 822 1376 829 1376 L847 1377 C852 1381 854 1386 854 1391 L852 1425 L806 1420 Z" fill="#575757"/>
<g stroke-linecap="butt">
<line x1="806" y1="1424" x2="848" y2="1433" stroke="#222" stroke-width="8"/>
<line x1="798" y1="1438" x2="838" y2="1448" stroke="#222" stroke-width="8"/>
<line x1="782" y1="1452" x2="816" y2="1461" stroke="#222" stroke-width="8"/>
<line x1="766" y1="1458" x2="788" y2="1469" stroke="#222" stroke-width="8"/>
<line x1="808" y1="1421" x2="849" y2="1430" stroke="#F2F2F2" stroke-width="8"/>
<line x1="799" y1="1435" x2="839" y2="1445" stroke="#F2F2F2" stroke-width="8"/>
<line x1="783" y1="1449" x2="817" y2="1458" stroke="#F2F2F2" stroke-width="8"/>
<line x1="767" y1="1455" x2="789" y2="1466" stroke="#F2F2F2" stroke-width="8"/>
</g>
<!-- right shoe -->
<path d="M1400 1459 C1402 1466 1404 1470 1408 1472 C1430 1484 1470 1494 1500 1495 C1530 1494 1542 1488 1542 1476 L1536 1461 Z" fill="#E2D0AC" stroke="#FBF6EA" stroke-width="4" paint-order="stroke"/>
<path d="M1411 1385 C1418 1372 1425 1367 1440 1366 L1459 1366 C1468 1368 1473 1372 1476 1378 C1490 1400 1510 1428 1536 1461 C1540 1466 1538 1468 1533 1468 C1500 1472 1460 1470 1400 1459 C1402 1430 1404 1405 1411 1385 Z" fill="#3A3A3A" stroke="#FBF6EA" stroke-width="5" paint-order="stroke"/>
<path d="M1411 1385 C1418 1372 1425 1367 1440 1366 L1459 1366 C1468 1368 1473 1372 1476 1378 C1490 1400 1500 1418 1508 1440 C1480 1446 1440 1444 1408 1438 C1406 1415 1408 1398 1411 1385 Z" fill="#575757"/>
<g stroke="#F4F4F4" stroke-width="6.5" stroke-linecap="round">
<line x1="1418" y1="1413" x2="1490" y2="1407"/>
<line x1="1421" y1="1423" x2="1498" y2="1417"/>
<line x1="1425" y1="1433" x2="1504" y2="1426"/>
</g>
<!-- head: hair back -->
<path d="M920 628 C905 600 888 560 882 520 C880 505 886 495 894 490 C888 475 890 455 900 440 C912 420 930 405 949 392 L943 411 C960 400 980 390 1000 385 L988 414 C1015 405 1045 400 1076 400 L1065 416 C1100 420 1130 440 1145 470 C1158 495 1162 520 1160 545 L1146 618 C1140 640 1130 660 1122 672 L1112 640 L1000 600 Z" fill="url(#hairG)" stroke="#FCF8EE" stroke-width="5" paint-order="stroke"/>
<!-- ear -->
<path d="M1138 546 C1150 536 1162 545 1162 562 C1162 590 1150 612 1136 620 Z" fill="#EDC7AE"/>
<path d="M1142 556 C1150 552 1155 560 1154 574 C1152 590 1146 604 1140 610 Z" fill="#DDAA90" opacity="0.7"/>
<!-- face -->
<path d="M920 524 C950 514 975 508 1001 502 C1040 492 1080 486 1114 503 L1124 606 C1130 612 1132 622 1128 634 C1120 660 1105 682 1085 700 C1068 714 1045 722 1026 723 C1000 722 975 712 955 695 C940 680 930 660 924 640 C914 610 908 580 908 556 C908 540 912 530 920 524 Z" fill="url(#skinG)"/>
<!-- sideburn strip under ear -->
<path d="M1134 622 L1146 618 C1140 640 1132 658 1122 672 C1124 660 1130 640 1134 622 Z" fill="#4A2C20"/>
<!-- eyebrows -->
<path d="M920 592 C932 576 952 566 975 569 C981 570 983 574 981 579 C960 578 940 584 922 595 Z" fill="#5C3C2C"/>
<path d="M1021 571 C1035 556 1058 549 1080 556 C1085 558 1085 563 1083 567 C1062 563 1042 566 1024 575 Z" fill="#5C3C2C"/>
<!-- eyes -->
<ellipse cx="953" cy="606" rx="10.5" ry="13" fill="#3A2320"/>
<circle cx="956" cy="600" r="3" fill="#FFFFFF"/>
<ellipse cx="1055" cy="589" rx="10.5" ry="12.5" fill="#3A2320"/>
<circle cx="1058" cy="583" r="3" fill="#FFFFFF"/>
<!-- nose -->
<ellipse cx="1006" cy="641" rx="7" ry="2.5" fill="#DDB8A0"/>
<!-- mouth -->
<path d="M987 667 C1010 667 1035 663 1052 656 C1048 675 1035 688 1018 688 C1003 688 992 679 987 667 Z" fill="#3A1414"/>
<path d="M991 668 C1012 668 1034 665 1049 659 C1044 670 1032 677 1018 678 C1004 678 996 674 991 668 Z" fill="#FFFFFF"/>
</g>

</svg>
<div class="t" id="t1">Hexagonal responsive ball</div>
<div class="t" id="t2">Focus on practice, exercise sensitive reaction ability, eye hand coordination ability</div>
<div class="t" id="t3">HEXAGON IS RESPONSIVE</div>
<div class="t" id="t4">Focus on practice, sensitive response</div>
<div class="t" id="t5">exercise ability, hand eye coordination</div>
</body></html>
